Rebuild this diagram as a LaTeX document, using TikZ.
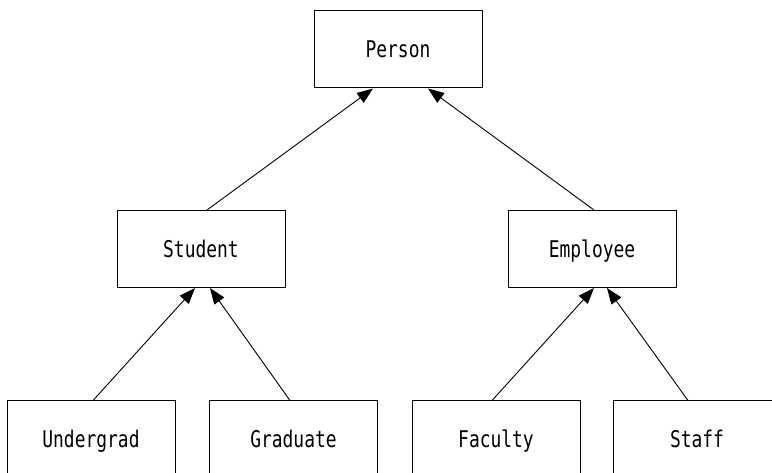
\documentclass[tikz,border=0pt]{standalone}
\usepackage{fontspec}
\usepackage{tikz}
\usetikzlibrary{positioning,arrows.meta}
\newfontfamily\classfont{DejaVu Sans Mono}[FakeStretch=0.78]

\begin{document}
\begin{tikzpicture}[x=1pt, y=1pt, on grid,
    cls/.style={draw, line width=1pt, minimum width=168pt, minimum height=77pt,
      inner sep=0pt, text height=16.7pt, text depth=0pt,
      font=\classfont\fontsize{23}{23}\selectfont},
    isa/.style={-{Triangle[length=16pt,width=12pt]}, line width=0.9pt}]
  \useasboundingbox (0,0) rectangle (772,-473);
  \node[cls] (person) at (398,-49.5) {Person};
  \node[cls] (student) [below left=199.5pt and 197pt of person] {Student};
  \node[cls] (employee) [below right=199.5pt and 194pt of person] {Employee};
  \node[cls] (undergrad) [below left=190.5pt and 110pt of student] {Undergrad};
  \node[cls] (graduate) [below right=190.5pt and 92.5pt of student] {Graduate};
  \node[cls] (faculty) [below left=190.5pt and 96pt of employee] {Faculty};
  \node[cls] (staff) [below right=190.5pt and 105pt of employee] {Staff};
  \path[isa]
    ([xshift=6pt]student.north) edge ([xshift=-25pt]person.south)
    ([xshift=2pt]employee.north) edge ([xshift=30pt]person.south)
    ([xshift=2pt]undergrad.north) edge ([xshift=-6pt]student.south)
    ([xshift=-3.5pt]graduate.north) edge ([xshift=9pt]student.south)
    ([xshift=-4pt]faculty.north) edge ([xshift=2pt]employee.south)
    ([xshift=-9pt]staff.north) edge ([xshift=15pt]employee.south);
\end{tikzpicture}
\end{document}
